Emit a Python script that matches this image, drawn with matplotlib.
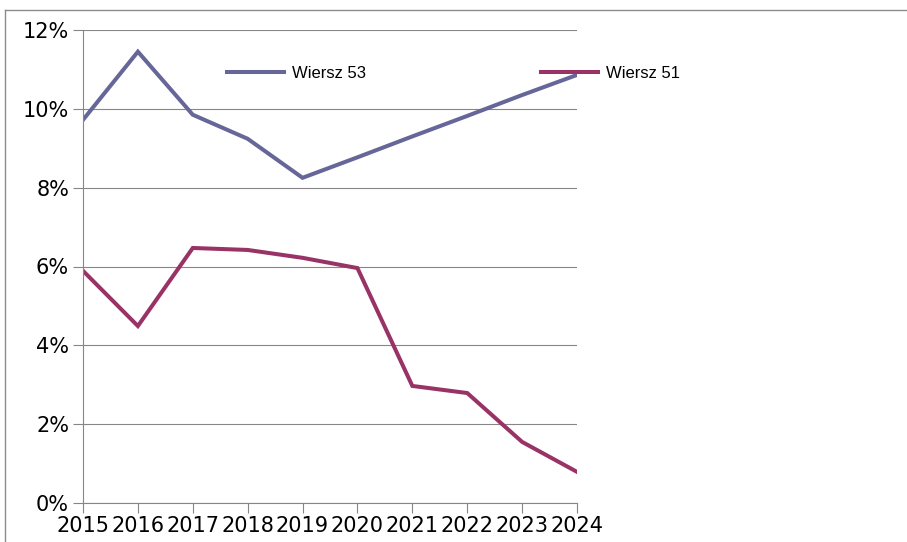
import matplotlib.pyplot as plt
from matplotlib.lines import Line2D
from matplotlib.ticker import PercentFormatter

# dane
years = [2015, 2016, 2017, 2018, 2019, 2020, 2021, 2022, 2023, 2024]
wiersz_53 = [9.72, 11.45, 9.85, 9.24, 8.25, 8.77, 9.3, 9.82, 10.35, 10.86]
wiersz_51 = [5.89, 4.49, 6.47, 6.42, 6.22, 5.96, 2.97, 2.79, 1.55, 0.79]
yticks = [0, 2, 4, 6, 8, 10, 12]

c53 = '#666699'
c51 = '#993366'
grid_c = '#868686'

fig = plt.figure(figsize=(9.07, 5.42), dpi=100)
ax = fig.add_axes([83 / 907, 1 - 503 / 542, 494 / 907, 473 / 542])

l53, = ax.plot(years, wiersz_53, color=c53, lw=2.9, solid_joinstyle='miter')
l51, = ax.plot(years, wiersz_51, color=c51, lw=2.9, solid_joinstyle='miter')

ax.set_xlim(2015, 2024)
ax.set_ylim(0, 12)
ax.set_xticks(years)
ax.set_yticks(yticks)
ax.yaxis.set_major_formatter(PercentFormatter(decimals=0))
ax.grid(axis='y', color=grid_c, lw=0.8)
ax.set_axisbelow(True)

for s in ['top', 'right']:
    ax.spines[s].set_visible(False)
for s in ['left', 'bottom']:
    ax.spines[s].set_color(grid_c)
    ax.spines[s].set_linewidth(0.8)

ax.tick_params(axis='both', length=7, width=0.8, color=grid_c,
               labelsize=15, pad=3)
ax.tick_params(axis='x', pad=2)

# legendy - dwa osobne wpisy jak w oryginale
leg_font = {'family': 'Liberation Sans', 'size': 12}
fig.legend([l53], ['Wiersz 53'], loc='center left',
           bbox_to_anchor=(227 / 907, 1 - 73 / 542), frameon=False,
           borderpad=0, borderaxespad=0, handlelength=3.4, handletextpad=0.5,
           prop=leg_font)
fig.legend([l51], ['Wiersz 51'], loc='center left',
           bbox_to_anchor=(541 / 907, 1 - 73 / 542), frameon=False,
           borderpad=0, borderaxespad=0, handlelength=3.4, handletextpad=0.5,
           prop=leg_font)

# ramka obszaru wykresu (widoczna tylko gora i lewa strona)
fig.add_artist(Line2D([5 / 907, 1], [1 - 10 / 542, 1 - 10 / 542],
                      transform=fig.transFigure, color='#8c8c8c', lw=1))
fig.add_artist(Line2D([5 / 907, 5 / 907], [0, 1 - 10 / 542],
                      transform=fig.transFigure, color='#8c8c8c', lw=1))

fig.savefig('out.png', dpi=100)
